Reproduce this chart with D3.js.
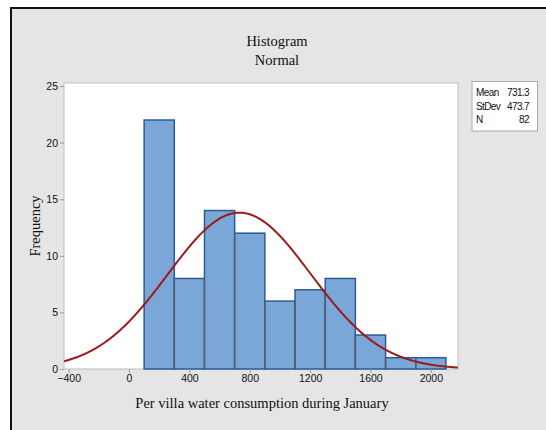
<!DOCTYPE html>
<html><head><meta charset="utf-8">
<script src="https://cdn.jsdelivr.net/npm/d3@7"></script>
<style>
html,body{margin:0;padding:0;background:#fff;}
svg{display:block;}
</style></head>
<body>
<svg id="c" width="546" height="430"></svg>
<script>
// ---- data ----
const binEdges = [100, 300, 500, 700, 900, 1100, 1300, 1500, 1700, 1900, 2100];
const counts = [22, 8, 14, 12, 6, 7, 8, 3, 1, 1];
const xTicks = [-400, 0, 400, 800, 1200, 1600, 2000];
const yTicks = [0, 5, 10, 15, 20, 25];
const statLabels = ["Mean", "StDev", "N"];
const statValues = ["731.3", "473.7", "82"];
const mean = 731.3, sd = 473.7, n = 82, binWidth = 200;

const svg = d3.select("#c");
// outer frame
svg.append("rect").attr("x", 11).attr("y", 8).attr("width", 560).attr("height", 440)
  .attr("fill", "#e5e5e5").attr("stroke", "#111").attr("stroke-width", 2);

const L = 64, R = 458, T = 83, B = 369;
const x = d3.scaleLinear().domain([-431, 2180]).range([L, R]);
const y = d3.scaleLinear().domain([0, 25.27]).range([B, T]);

// plot area
svg.append("rect").attr("x", L).attr("y", T).attr("width", R - L).attr("height", B - T)
  .attr("fill", "#fff").attr("stroke", "#bdbdbd").attr("stroke-width", 1);

svg.append("defs").append("clipPath").attr("id", "clip")
  .append("rect").attr("x", L).attr("y", T).attr("width", R - L).attr("height", B - T);

// bars
const bars = counts.map((c, i) => ({x0: binEdges[i], x1: binEdges[i + 1], c}));
svg.append("g").selectAll("rect").data(bars).join("rect")
  .attr("x", d => x(d.x0)).attr("y", d => y(d.c))
  .attr("width", d => x(d.x1) - x(d.x0)).attr("height", d => y(0) - y(d.c))
  .attr("fill", "#7ba6d8").attr("stroke", "#2a5b99").attr("stroke-width", 1.5);
// internal dividers
const divs = bars.slice(1).map((d, i) => ({xv: d.x0, h: Math.min(d.c, bars[i].c)}));
svg.append("g").selectAll("line").data(divs).join("line")
  .attr("x1", d => x(d.xv)).attr("x2", d => x(d.xv))
  .attr("y1", y(0)).attr("y2", d => y(d.h))
  .attr("stroke", "#5f5f5f").attr("stroke-width", 1.2);

// normal curve
const scale = n * binWidth;
const pts = d3.range(-431, 2181, 5).map(v => [v, scale * Math.exp(-0.5 * ((v - mean) / sd) ** 2) / (sd * Math.sqrt(2 * Math.PI))]);
svg.append("path").datum(pts).attr("clip-path", "url(#clip)")
  .attr("d", d3.line().x(d => x(d[0])).y(d => y(d[1])))
  .attr("fill", "none").attr("stroke", "#9c1a1c").attr("stroke-width", 2);

// axes
const xa = svg.append("g").attr("transform", `translate(0,${B})`)
  .call(d3.axisBottom(x).tickValues(xTicks).tickSize(4).tickPadding(2).tickFormat(d3.format("d")));
const ya = svg.append("g").attr("transform", `translate(${L},0)`)
  .call(d3.axisLeft(y).tickValues(yTicks).tickSize(4).tickPadding(2));
[xa, ya].forEach(a => {
  a.select(".domain").remove();
  a.selectAll("line").attr("stroke", "#9a9a9a");
  a.selectAll("text").attr("font-family", "Liberation Sans, Arial, sans-serif")
    .attr("font-size", 10.5).attr("fill", "#111");
});

// titles
const serif = "Liberation Serif, Times New Roman, serif";
svg.append("text").attr("x", 277).attr("y", 46).attr("text-anchor", "middle")
  .attr("font-family", serif).attr("font-size", 14.5).attr("fill", "#111").text("Histogram");
svg.append("text").attr("x", 277).attr("y", 65).attr("text-anchor", "middle")
  .attr("font-family", serif).attr("font-size", 14.5).attr("fill", "#111").text("Normal");
svg.append("text").attr("x", 262).attr("y", 408).attr("text-anchor", "middle")
  .attr("font-family", serif).attr("font-size", 14.5).attr("fill", "#111")
  .text("Per villa water consumption during January");
svg.append("text").attr("transform", "translate(40,226) rotate(-90)").attr("text-anchor", "middle")
  .attr("font-family", serif).attr("font-size", 14.5).attr("fill", "#111").text("Frequency");

// stats box
svg.append("rect").attr("x", 472).attr("y", 81.5).attr("width", 65.5).attr("height", 49.5)
  .attr("fill", "#fff").attr("stroke", "#aaa");
const sg = svg.append("g").attr("font-family", "Liberation Sans, Arial, sans-serif")
  .attr("font-size", 10).attr("fill", "#111");
statLabels.forEach((s, i) => {
  sg.append("text").attr("x", 476).attr("y", 96 + i * 13.7).attr("letter-spacing", -0.6).text(s);
  sg.append("text").attr("x", 529).attr("y", 96 + i * 13.7).attr("text-anchor", "end").attr("letter-spacing", -0.6).text(statValues[i]);
});
</script>
</body></html>
